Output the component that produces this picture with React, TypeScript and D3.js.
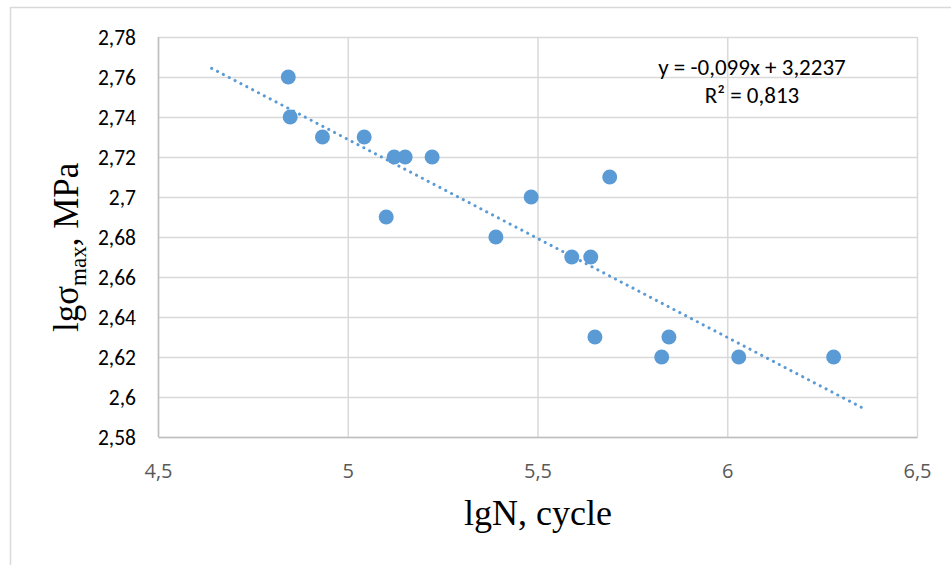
import React from "react";
import * as d3 from "d3";

const lgN = [4.842, 4.847, 4.932, 5.042, 5.121, 5.15, 5.221, 5.1, 5.389, 5.482, 5.589, 5.639, 5.689, 5.65, 5.826, 5.845, 6.029, 6.279];
const lgSigma = [2.76, 2.74, 2.73, 2.73, 2.72, 2.72, 2.72, 2.69, 2.68, 2.7, 2.67, 2.67, 2.71, 2.63, 2.62, 2.63, 2.62, 2.62];
const xTicks = [4.5, 5, 5.5, 6, 6.5];
const yTicks = [2.58, 2.6, 2.62, 2.64, 2.66, 2.68, 2.7, 2.72, 2.74, 2.76, 2.78];
const trendSlope = -0.099;
const trendIntercept = 3.2237;
const trendRange = [4.64, 6.366];
const equationLines = ["y = -0,099x + 3,2237", "R² = 0,813"];

const W = 951;
const H = 565;
const left = 158.5, right = 917.5, top = 37, bottom = 437;

const fmt = (v: number) => String(v).replace(".", ",");

export default function App() {
  const x = d3.scaleLinear().domain([4.5, 6.5]).range([left, right]);
  const y = d3.scaleLinear().domain([2.58, 2.78]).range([bottom, top]);
  const trendLine = d3
    .line<number>()
    .x((d) => x(d))
    .y((d) => y(trendSlope * d + trendIntercept));
  const font = "Calibri, Carlito, 'Open Sans', sans-serif";
  return (
    <svg width={W} height={H} style={{ position: "absolute", left: 0, top: 0, background: "#fff" }}>
      <rect x={10.5} y={7.5} width={1000} height={1000} fill="#fff" stroke="#d9d9d9" strokeWidth={1.5} />
      {yTicks.map((t) => (
        <line key={"gy" + t} x1={left} x2={right} y1={Math.round(y(t)) + 0.5} y2={Math.round(y(t)) + 0.5} stroke="#d9d9d9" strokeWidth={1.5} />
      ))}
      {xTicks.map((t) => (
        <line key={"gx" + t} x1={x(t)} x2={x(t)} y1={top} y2={bottom} stroke="#d9d9d9" strokeWidth={1.5} />
      ))}
      <line x1={left} x2={right} y1={bottom + 0.5} y2={bottom + 0.5} stroke="#bfbfbf" strokeWidth={1.5} />
      <line x1={left} x2={left} y1={top} y2={bottom} stroke="#bfbfbf" strokeWidth={1.5} />
      {yTicks.map((t) => (
        <text key={"ty" + t} x={136} y={y(t)} dy="0.35em" textAnchor="end" fontFamily={font} fontSize={21.5} fill="#000">
          {fmt(t)}
        </text>
      ))}
      {xTicks.map((t) => (
        <text key={"tx" + t} x={x(t)} y={478} textAnchor="middle" fontFamily="'Open Sans', sans-serif" fontSize={20} fill="#595959">
          {fmt(t)}
        </text>
      ))}
      <path d={trendLine(trendRange) || ""} fill="none" stroke="#5b9bd5" strokeWidth={3} strokeDasharray="0.1 6.5" strokeLinecap="round" />
      {lgN.map((v, i) => (
        <circle key={"p" + i} cx={x(v)} cy={y(lgSigma[i])} r={7.5} fill="#5b9bd5" />
      ))}
      {equationLines.map((s, i) => (
        <text key={"eq" + i} x={752} y={75 + i * 28} textAnchor="middle" fontFamily={font} fontSize={23} fill="#000">
          {s}
        </text>
      ))}
      <text x={538} y={525} textAnchor="middle" fontFamily="'Times New Roman', 'Liberation Serif', serif" fontSize={36} fill="#000">
        lgN, cycle
      </text>
      <text transform="translate(78,332) rotate(-90)" fontFamily="'Times New Roman', 'Liberation Serif', serif" fontSize={35} fill="#000">
        lgσ
        <tspan fontSize={23} dy={8}>max</tspan>
        <tspan dy={-8}>, MPa</tspan>
      </text>
    </svg>
  );
}
